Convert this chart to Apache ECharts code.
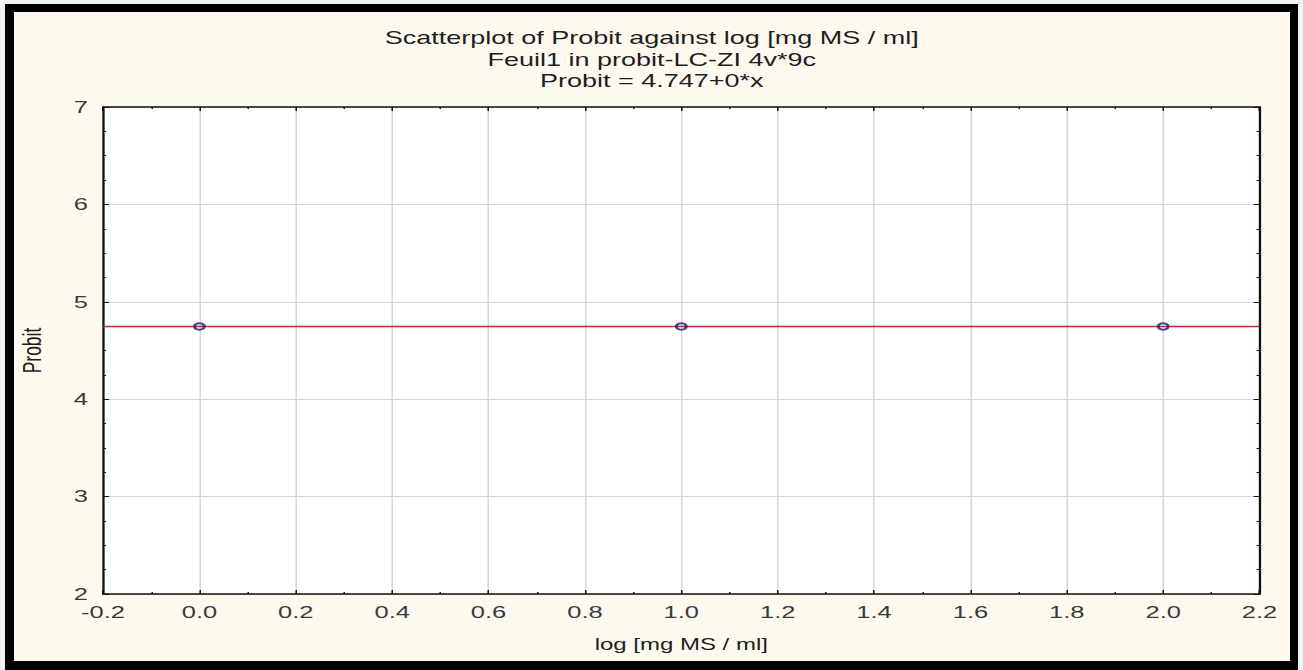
<!DOCTYPE html>
<html>
<head>
<meta charset="utf-8">
<title>Scatterplot of Probit against log [mg MS / ml]</title>
<script src="https://cdn.jsdelivr.net/npm/echarts@6.0.0/dist/echarts.min.js"></script>
<style>
  html, body { margin: 0; padding: 0; width: 1303px; height: 670px; background: #f2f2f2; overflow: hidden; }
  #frame {
    position: absolute; left: 5px; top: 4px; width: 1293px; height: 666px;
    box-sizing: border-box; background: #fdf9ef;
    border-style: solid; border-color: #000;
    border-width: 8px 8px 9px 9px;
  }
  /* the plot is laid out on a narrower canvas and widened horizontally */
  #chart {
    position: absolute; left: 0; top: 0; width: 869px; height: 670px;
    transform: scaleX(1.5); transform-origin: 0 0;
  }
</style>
</head>
<body>
<div id="frame"></div>
<div id="chart"></div>
<script>
// observed points
const logDose = [0, 1, 2];
const probit = [4.747, 4.747, 4.747];

// fitted regression line: Probit = intercept + slope * x
const intercept = 4.747;
const slope = 0;
const fitRange = [-0.2, 2.2];

// axis ranges and tick steps
const xRange = [-0.2, 2.2];
const xStep = 0.2;
const yRange = [2, 7];
const yStep = 1;

const titleLines = [
  'Scatterplot of Probit against log [mg MS / ml]',
  'Feuil1 in probit-LC-ZI 4v*9c',
  'Probit = ' + intercept + '+' + slope + '*x'
];
const xName = 'log [mg MS / ml]';
const yName = 'Probit';

const FONT = '"Liberation Sans", Arial, sans-serif';
const scatterData = logDose.map((x, i) => [x, probit[i]]);
const fitData = fitRange.map(x => [x, intercept + slope * x]);

const axisLineStyle = { color: '#111', width: 1.5 };
const baseX = {
  type: 'value', min: xRange[0], max: xRange[1], interval: xStep,
  axisLine: { show: true, onZero: false, lineStyle: axisLineStyle },
  axisTick: { show: true, inside: true, length: 4, lineStyle: { color: '#111', width: 1 } },
  minorTick: { show: true, splitNumber: 2, length: 2, lineStyle: { color: '#111', width: 1 } }
};
const baseY = {
  type: 'value', min: yRange[0], max: yRange[1], interval: yStep,
  axisLine: { show: true, onZero: false, lineStyle: axisLineStyle },
  axisTick: { show: true, inside: true, length: 4, lineStyle: { color: '#111', width: 1 } },
  minorTick: { show: true, splitNumber: 4, length: 2, lineStyle: { color: '#111', width: 1 } }
};

const chart = echarts.init(document.getElementById('chart'), null, { renderer: 'svg' });
chart.setOption({
  animation: false,
  backgroundColor: 'transparent',
  title: {
    text: titleLines.join('\n'),
    left: 'center', top: 27, padding: 0,
    textStyle: { fontFamily: FONT, fontSize: 18, fontWeight: 'normal', color: '#1e1e1e', lineHeight: 21.5 }
  },
  grid: { left: 68.7, right: 29.3, top: 107, bottom: 76, backgroundColor: '#fff', show: true, borderWidth: 0 },
  xAxis: [
    Object.assign({}, baseX, {
      position: 'bottom',
      name: xName, nameLocation: 'middle', nameGap: 43,
      nameTextStyle: { fontFamily: FONT, fontSize: 16, color: '#1e1e1e' },
      axisLabel: { show: true, margin: 10, fontFamily: FONT, fontSize: 17, color: '#3a3a3a',
                   formatter: v => v.toFixed(1) },
      splitLine: { show: true, lineStyle: { color: '#d6d6d6', width: 1 } }
    }),
    Object.assign({}, baseX, {
      position: 'top', axisLabel: { show: false }, splitLine: { show: false }
    })
  ],
  yAxis: [
    Object.assign({}, baseY, {
      position: 'left',
      name: yName, nameLocation: 'middle', nameGap: 38, nameRotate: 90,
      nameTextStyle: { fontFamily: FONT, fontSize: 17.5, color: '#1e1e1e' },
      axisLabel: { show: true, margin: 10, fontFamily: FONT, fontSize: 17, color: '#3a3a3a' },
      splitLine: { show: true, lineStyle: { color: '#d6d6d6', width: 1 } }
    }),
    Object.assign({}, baseY, {
      position: 'right', axisLabel: { show: false }, splitLine: { show: false }
    })
  ],
  series: [
    {
      name: 'fit', type: 'line', xAxisIndex: 0, yAxisIndex: 0,
      data: fitData, symbol: 'none', silent: true, z: 3,
      lineStyle: { color: '#bf2a30', width: 1.5 }
    },
    {
      name: 'Probit', type: 'scatter', xAxisIndex: 0, yAxisIndex: 0,
      data: scatterData, symbol: 'circle', symbolSize: 6.5, z: 4,
      itemStyle: { color: 'rgba(255,255,255,0)', borderColor: '#221c6e', borderWidth: 2 }
    }
  ]
});
</script>
</body>
</html>
